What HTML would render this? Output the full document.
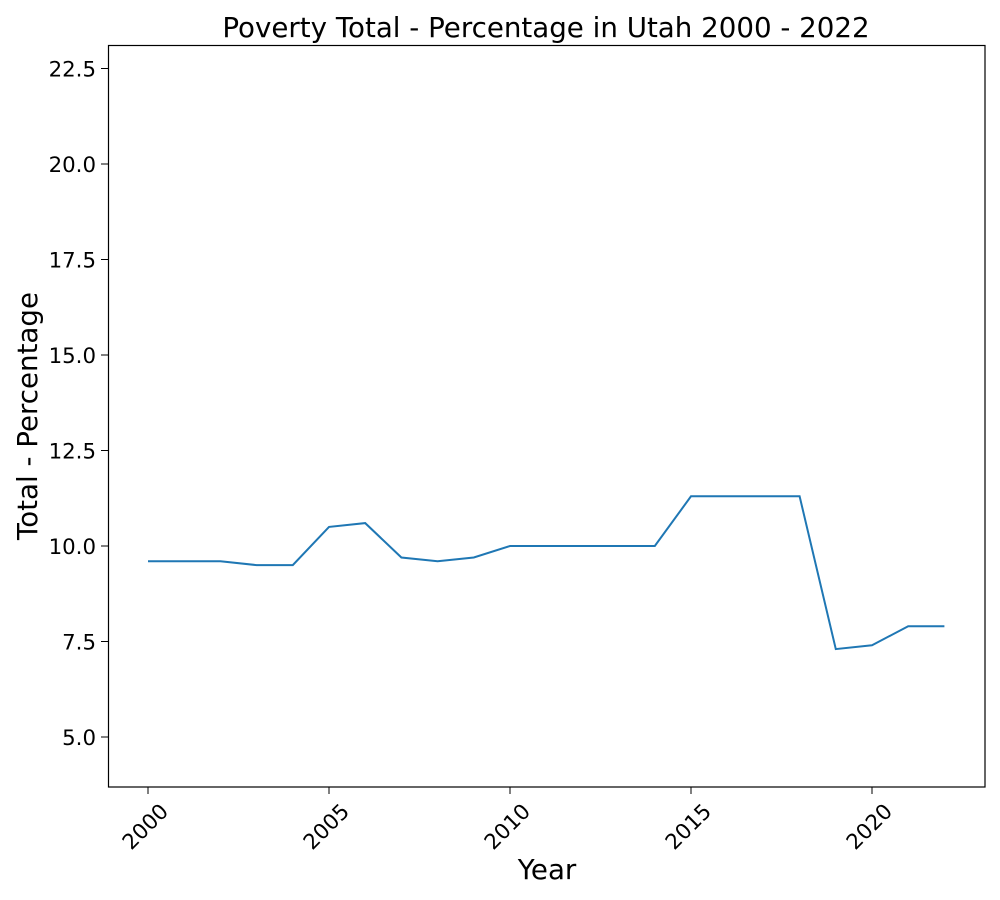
<!DOCTYPE html>
<html><head><meta charset="utf-8"><style>
body{margin:0;background:#fff;}
svg{display:block;font-family:"DejaVu Sans","Liberation Sans",sans-serif;}
</style></head><body>
<svg id="chart" width="1000" height="900">
<rect x="0" y="0" width="1000" height="900" fill="#fff"/>
<text x="546" y="37" font-size="27.7" text-anchor="middle" fill="#000">Poverty Total - Percentage in Utah 2000 - 2022</text>
<g id="xticks"></g><g id="yticks"></g>
<path id="line" fill="none" stroke="#1f77b4" stroke-width="2"/>
<rect x="108.5" y="45.5" width="876.5" height="741.5" fill="none" stroke="#000" stroke-width="1.2"/>
<text x="547" y="879" font-size="27.7" text-anchor="middle">Year</text>
<text transform="translate(37,416) rotate(-90)" font-size="27.7" text-anchor="middle">Total - Percentage</text>
</svg>
<script>
const years=[2000,2001,2002,2003,2004,2005,2006,2007,2008,2009,2010,2011,2012,2013,2014,2015,2016,2017,2018,2019,2020,2021,2022];
const values=[9.6,9.6,9.6,9.5,9.5,10.5,10.6,9.7,9.6,9.7,10.0,10.0,10.0,10.0,10.0,11.3,11.3,11.3,11.3,7.3,7.4,7.9,7.9];
const xTickValues=[2000,2005,2010,2015,2020];
const yTickValues=[5.0,7.5,10.0,12.5,15.0,17.5,20.0,22.5];
const yTickLabels=["5.0","7.5","10.0","12.5","15.0","17.5","20.0","22.5"];
const NS="http://www.w3.org/2000/svg";
function xs(v){return 148+(v-2000)*36.2;}
function ys(v){return 737-(v-5)*38.2;}
let d="";
years.forEach((y,i)=>{d+=(i?"L":"M")+xs(y).toFixed(1)+","+ys(values[i]).toFixed(1);});
document.getElementById('line').setAttribute('d',d);
const xg=document.getElementById('xticks');
xTickValues.forEach(v=>{
 const x=xs(v);
 const l=document.createElementNS(NS,'line');
 l.setAttribute('x1',x);l.setAttribute('x2',x);l.setAttribute('y1',787);l.setAttribute('y2',794);
 l.setAttribute('stroke','#000');
 
 
 xg.appendChild(l);
 const t=document.createElementNS(NS,'text');
 t.setAttribute('transform',`translate(${x+11},${802}) rotate(-45)`);
 t.setAttribute('text-anchor','end');t.setAttribute('font-size','21.3');t.setAttribute('dy','15');
 t.textContent=v;
 
 
 xg.appendChild(t);
});
const yg=document.getElementById('yticks');
yTickValues.forEach((v,i)=>{
 const y=ys(v);
 const l=document.createElementNS(NS,'line');
 l.setAttribute('x1',101);l.setAttribute('x2',108);l.setAttribute('y1',y);l.setAttribute('y2',y);
 l.setAttribute('stroke','#000');
 
 
 yg.appendChild(l);
 const t=document.createElementNS(NS,'text');
 t.setAttribute('x',96);t.setAttribute('y',y+8);
 t.setAttribute('text-anchor','end');t.setAttribute('font-size','21.3');
 t.textContent=yTickLabels[i];
 
 
 yg.appendChild(t);
});
</script>
</body></html>
